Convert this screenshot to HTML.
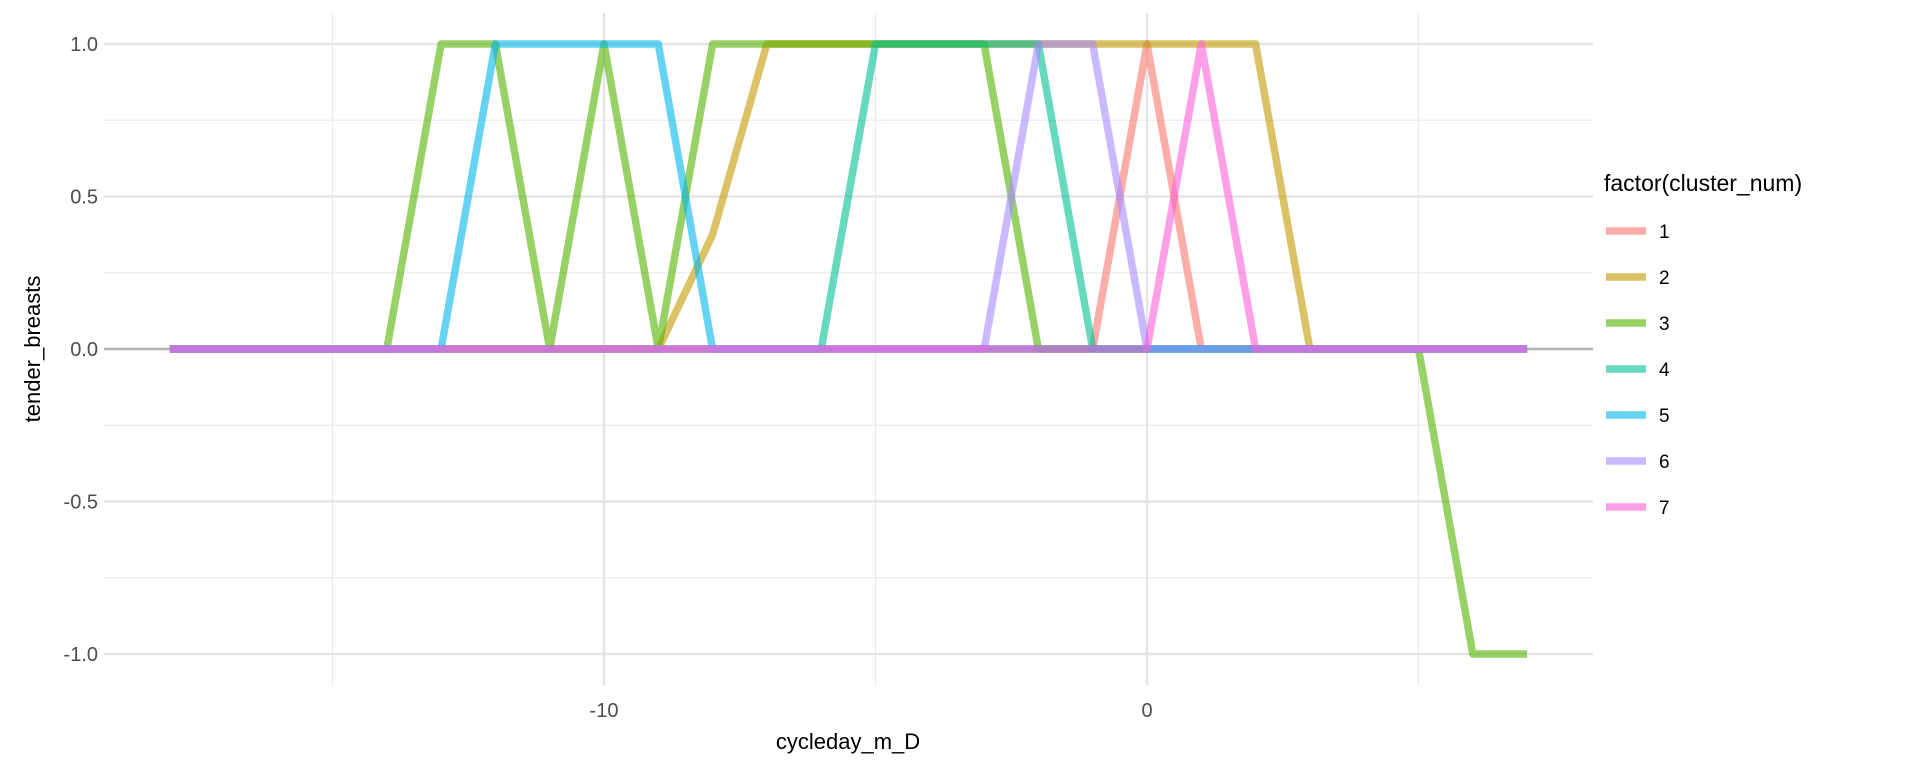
<!DOCTYPE html>
<html><head><meta charset="utf-8"><style>
body{margin:0;background:#fff;}
svg text{font-family:"Liberation Sans",sans-serif;}
</style></head><body>
<svg id="chart" width="1920" height="768" xmlns="http://www.w3.org/2000/svg">
<g id="grid"></g>
<g id="series"></g>
<g id="axes"></g>
<g id="legend"></g>
</svg>
<script>
const days = [-18,-17,-16,-15,-14,-13,-12,-11,-10,-9,-8,-7,-6,-5,-4,-3,-2,-1,0,1,2,3,4,5,6,7];
const s1 = [0,0,0,0,0,0,0,0,0,0,0,0,0,0,0,0,0,0,1,0,0,0,0,0,0,0];
const s2 = [0,0,0,0,0,0,0,0,0,0,0.375,1,1,1,1,1,1,1,1,1,1,0,0,0,0,0];
const s3 = [0,0,0,0,0,1,1,0,1,0,1,1,1,1,1,1,0,0,0,0,0,0,0,0,-1,-1];
const s4 = [0,0,0,0,0,0,0,0,0,0,0,0,0,1,1,1,1,0,0,0,0,0,0,0,0,0];
const s5 = [0,0,0,0,0,0,1,1,1,1,0,0,0,0,0,0,0,0,0,0,0,0,0,0,0,0];
const s6 = [0,0,0,0,0,0,0,0,0,0,0,0,0,0,0,0,1,1,0,0,0,0,0,0,0,0];
const s7 = [0,0,0,0,0,0,0,0,0,0,0,0,0,0,0,0,0,0,0,1,0,0,0,0,0,0];
const seriesNames = ["1","2","3","4","5","6","7"];
const xTicks = [-10,0];
const xMinor = [-15,-5,5];
const yTicks = [-1,-0.5,0,0.5,1];
const yTickLabels = ["-1.0","-0.5","0.0","0.5","1.0"];
const yMinor = [-0.75,-0.25,0.25,0.75];

const colors = ["#F8766D","#C49A00","#53B400","#00C094","#00B6EB","#A58AFF","#FB61D7"];
const allSeries = [s1,s2,s3,s4,s5,s6,s7];
const NS = "http://www.w3.org/2000/svg";
const L=104,R=1593,T=13,B=685;
function xs(v){return 1147 + (v-0)*54.3;}
function ys(v){return 349 - v*305;}
function mk(tag,attrs,parent){const e=document.createElementNS(NS,tag);for(const k in attrs)e.setAttribute(k,attrs[k]);parent.appendChild(e);return e;}
const grid=document.getElementById('grid'),axes=document.getElementById('axes'),ser=document.getElementById('series'),leg=document.getElementById('legend');
yMinor.forEach(v=>{const l=mk('line',{x1:L,x2:R,y1:ys(v),y2:ys(v),stroke:'#ebebeb','stroke-width':1.2},grid);

});
xMinor.forEach(v=>{const l=mk('line',{x1:xs(v),x2:xs(v),y1:T,y2:B,stroke:'#ebebeb','stroke-width':1.2},grid);

});
yTicks.forEach((v,i)=>{const l=mk('line',{x1:L,x2:R,y1:ys(v),y2:ys(v),stroke:'#e5e5e5','stroke-width':2.4},grid);


const t=mk('text',{x:98,y:ys(v)+7,'text-anchor':'end','font-size':20,fill:'#4d4d4d'},axes);t.textContent=yTickLabels[i];

});
xTicks.forEach(v=>{const l=mk('line',{x1:xs(v),x2:xs(v),y1:T,y2:B,stroke:'#e5e5e5','stroke-width':2.4},grid);


const t=mk('text',{x:xs(v),y:717,'text-anchor':'middle','font-size':20,fill:'#4d4d4d'},axes);t.textContent=String(v);

});
const zl=mk('line',{x1:L,x2:R,y1:ys(0),y2:ys(0),stroke:'#b3b3b3','stroke-width':2.4},grid);


allSeries.forEach((s,i)=>{const pts=s.map((v,j)=>xs(days[j])+','+ys(v)).join(' ');
const p=mk('polyline',{points:pts,fill:'none',stroke:colors[i],'stroke-width':7.5,'stroke-opacity':0.6,'stroke-linejoin':'round'},ser);

});
const xt=mk('text',{x:848,y:749,'text-anchor':'middle','font-size':22,fill:'#000'},axes);xt.textContent='cycleday_m_D';


const yt=mk('text',{x:0,y:0,'text-anchor':'middle','font-size':22,fill:'#000',transform:'translate(40,349) rotate(-90)'},axes);yt.textContent='tender_breasts';


const lt=mk('text',{x:1604,y:191,'font-size':23,fill:'#000'},leg);lt.textContent='factor(cluster_num)';


seriesNames.forEach((n,i)=>{const y=231+i*46;
const k=mk('line',{x1:1606,x2:1646,y1:y,y2:y,stroke:colors[i],'stroke-width':7.5,'stroke-opacity':0.6},leg);


const t=mk('text',{x:1659,y:y+7,'font-size':19,fill:'#000'},leg);t.textContent=n;

});
</script>
</body></html>
